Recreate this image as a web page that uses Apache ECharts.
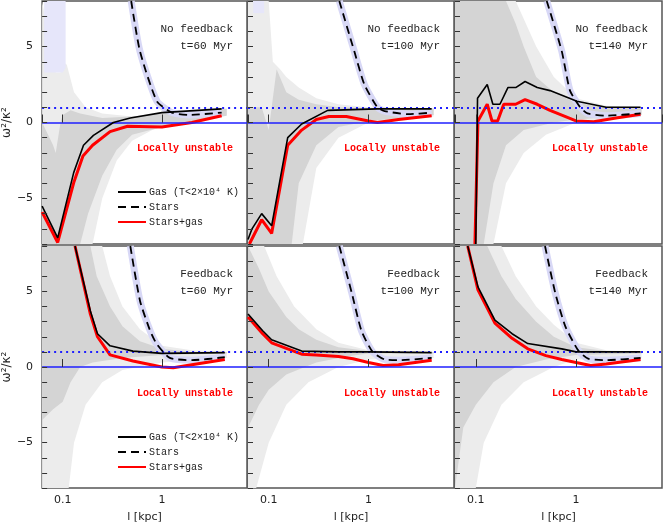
<!DOCTYPE html>
<html><head><meta charset="utf-8">
<script src="https://cdn.jsdelivr.net/npm/echarts@6/dist/echarts.min.js"></script>
<style>html,body{margin:0;padding:0;background:#fff}#c{width:664px;height:524px}</style>
</head><body><div id="c"></div>
<script>
// ---------- data (x in kpc, y = omega^2/kappa^2) ----------
const panelTitles = ['No feedback\nt=60 Myr','No feedback\nt=100 Myr','No feedback\nt=140 Myr','Feedback\nt=60 Myr','Feedback\nt=100 Myr','Feedback\nt=140 Myr'];
const xTicks = [0.1, 1];
const yTickLabels = [-5, 0, 5];

const gas = [
 [[0.062,-5.5],[0.089,-7.6],[0.129,-3.3],[0.162,-1.5],[0.204,-0.85],[0.324,0],[0.479,0.3],[1,0.65],[4,0.9]],
 [[0.062,-7.7],[0.068,-7.0],[0.085,-6.0],[0.107,-6.8],[0.155,-1.0],[0.214,-0.1],[0.39,0.8],[1.23,0.9],[4.3,0.9]],
 [[0.1,-8],[0.104,1.6],[0.13,2.5],[0.148,1.2],[0.174,1.2],[0.209,2.3],[0.25,2.3],[0.31,2.7],[0.41,2.3],[0.55,2.1],[1.02,1.4],[2,1.0],[4.4,1.0]],
 [[0.133,8],[0.19,3.7],[0.224,2.2],[0.3,1.4],[0.51,1.05],[1,0.9],[4.3,0.95]],
 [[0.062,3.5],[0.087,2.4],[0.107,1.8],[0.214,1.05],[0.5,1.0],[1,1.0],[4.3,0.95]],
 [[0.083,8],[0.105,5.3],[0.155,3.1],[0.23,2.2],[0.33,1.55],[0.72,1.2],[1,1.0],[4.4,1.0]]
];
const starsGas = [
 [[0.062,-5.9],[0.089,-7.9],[0.13,-3.9],[0.16,-2.2],[0.2,-1.5],[0.3,-0.6],[0.45,-0.25],[1,-0.3],[2,0],[4,0.45]],
 [[0.064,-8],[0.085,-6.4],[0.107,-7.3],[0.155,-1.5],[0.214,-0.5],[0.3,0.2],[0.4,0.4],[0.6,0.4],[1.0,0.1],[1.23,0],[2,0.2],[4.3,0.45]],
 [[0.098,-8],[0.105,0.1],[0.13,1.2],[0.145,0.1],[0.165,0.1],[0.19,1.2],[0.25,1.2],[0.31,1.5],[0.41,1.2],[0.55,0.8],[1.0,0.1],[1.5,0.05],[2.5,0.3],[4.4,0.55]],
 [[0.133,8],[0.19,3.5],[0.224,2.0],[0.3,0.8],[0.51,0.4],[1,0],[1.3,-0.05],[2,0.15],[4.3,0.5]],
 [[0.062,3.3],[0.087,2.2],[0.107,1.6],[0.214,0.85],[0.3,0.8],[0.5,0.7],[0.7,0.55],[1.0,0.3],[1.4,0.1],[2,0.15],[4.3,0.45]],
 [[0.083,8],[0.105,5.1],[0.155,2.9],[0.23,1.9],[0.33,1.2],[0.5,0.75],[0.72,0.5],[1.0,0.3],[1.4,0.1],[2,0.2],[4.4,0.5]]
];
const stars = [
 [[0.49,8],[0.6,4.7],[0.89,1.4],[1.26,0.65],[1.9,0.5],[4,0.65]],
 [[0.51,8],[0.72,4.7],[0.91,2.5],[1.23,1.0],[1.45,0.75],[2.5,0.55],[4.3,0.65]],
 [[0.51,8],[0.72,4.7],[0.87,2.1],[1.1,1.0],[1.3,0.6],[2,0.45],[4.4,0.6]],
 [[0.48,8],[0.6,4.4],[0.76,2.4],[0.89,1.5],[1.2,0.6],[2,0.45],[4.3,0.65]],
 [[0.51,8],[0.68,4.9],[0.85,2.4],[1.1,1.0],[1.45,0.5],[2,0.45],[4.3,0.6]],
 [[0.49,8],[0.62,4.9],[0.78,2.7],[1.05,1.1],[1.32,0.55],[2,0.45],[4.4,0.6]]
];
// scatter bands: [upper edge, lower edge]
const lightBand = [
 [[[0.062,8],[0.08,4],[0.085,3.3],[0.095,3.3],[0.1,4],[0.11,3.8],[0.13,2],[0.17,1],[0.25,0.6],[0.5,0.4],[1,0.5],[2,0.7],[4.5,0.9]],
  [[0.062,-8],[0.2,-8],[0.25,-5],[0.35,-2.5],[0.5,-1.2],[0.8,-0.5],[1,-0.3],[2,0],[4.5,0.5]]],
 [[[0.062,8],[0.1,8],[0.11,4],[0.13,3.5],[0.15,3],[0.2,2.3],[0.3,1.6],[0.5,1.2],[1,1],[4.5,0.95]],
  [[0.062,-8],[0.22,-8],[0.3,-3],[0.5,-1],[1,0],[4.5,0.4]]],
 [[[0.062,8],[0.25,8],[0.4,5],[0.6,3],[1,1.6],[2,1.1],[4.5,1]],
  [[0.062,-8],[0.15,-8],[0.2,-4],[0.3,-2],[0.5,-0.8],[1,0],[4.5,0.5]]],
 [[[0.062,8],[0.25,8],[0.3,6],[0.4,4],[0.6,2.5],[1,1.4],[2,1.1],[4.5,1]],
  [[0.062,-8],[0.115,-8],[0.13,-5],[0.17,-2.5],[0.25,-1],[0.4,-0.2],[1,0.3],[4.5,0.6]]],
 [[[0.062,8],[0.09,8],[0.12,6],[0.18,4],[0.3,2.5],[0.5,1.6],[1,1.1],[4.5,1]],
  [[0.062,-8],[0.075,-8],[0.1,-5],[0.15,-2.5],[0.25,-1],[0.5,0],[1,0.5],[4.5,0.6]]],
 [[[0.062,8],[0.18,8],[0.25,6],[0.4,4],[0.6,2.8],[1,1.6],[2,1.1],[4.5,1]],
  [[0.062,-8],[0.1,-8],[0.12,-5],[0.18,-2.5],[0.3,-1],[0.6,0],[1,0.5],[4.5,0.6]]]
];
const darkBand = [
 [[[0.062,0],[0.08,-1.5],[0.085,-2],[0.095,0],[0.1,0.5],[0.12,0.8],[0.15,0.6],[0.25,0.3],[0.5,0.4],[1,0.6],[4.5,0.9]],
  [[0.062,-8],[0.15,-8],[0.18,-6],[0.25,-3.5],[0.35,-1.8],[0.5,-0.8],[1,-0.3],[4.5,0.45]]],
 [[[0.062,1],[0.085,1],[0.1,-0.5],[0.12,3.5],[0.15,2],[0.2,1.5],[0.3,1.2],[0.5,1.0],[1,0.95],[4.5,0.9]],
  [[0.062,-8],[0.17,-8],[0.2,-4],[0.3,-1.5],[0.5,-0.3],[1,0.1],[4.5,0.5]]],
 [[[0.062,8],[0.2,8],[0.25,6.5],[0.3,5],[0.4,3],[0.6,2],[1,1.3],[2,1],[4.5,1]],
  [[0.062,-8],[0.12,-8],[0.15,-4],[0.2,-1.5],[0.3,-0.5],[0.6,0],[1,0.2],[4.5,0.5]]],
 [[[0.062,8],[0.19,8],[0.22,6],[0.3,4],[0.4,2.7],[0.6,1.7],[1,1.2],[2,1],[4.5,1]],
  [[0.062,-3.5],[0.08,-2.8],[0.1,-2.3],[0.12,-1],[0.15,0],[0.2,0.3],[0.4,0.6],[1,0.8],[4.5,0.9]]],
 [[[0.062,8],[0.08,6.5],[0.1,5],[0.15,3.3],[0.2,2.5],[0.3,1.8],[0.5,1.3],[1,1.05],[4.5,1]],
  [[0.062,-4],[0.08,-2.5],[0.1,-1.5],[0.15,-0.5],[0.3,0.3],[0.6,0.7],[1,0.9],[4.5,0.9]]],
 [[[0.062,8],[0.13,8],[0.18,6],[0.25,4.5],[0.4,3],[0.6,2],[1,1.3],[2,1.05],[4.5,1]],
  [[0.062,-8],[0.075,-4],[0.1,-2.5],[0.15,-1],[0.25,0],[0.5,0.5],[1,0.8],[4.5,0.9]]]
];
const bluePatch = [
 [[[0.065,8],[0.107,8]],[[0.065,3.3],[0.08,3.3],[0.1,3.3],[0.107,3.6]]],
 [[[0.07,8],[0.09,8]],[[0.07,7.2],[0.09,7.2]]],
 null,null,null,null
];

// ---------- layout ----------
const grids = [
 {left:41,top:1,width:206,height:243},{left:248,top:1,width:206,height:243},{left:455,top:1,width:207,height:243},
 {left:41,top:246,width:206,height:244},{left:248,top:246,width:206,height:244},{left:455,top:246,width:207,height:244}
];
const font = 'DejaVu Sans';
const xAxes=[], yAxes=[], series=[], graphics=[];

function bandSeries(i, band, color, z){
  if(!band) return;
  const pts = band[0].concat(band[1].slice().reverse());
  series.push({type:'custom', xAxisIndex:i, yAxisIndex:i, silent:true, z:z, data:[[1,0]],
    renderItem:(params, api)=>{
      const cs = params.coordSys;
      return {type:'polygon', shape:{points:pts.map(p=>api.coord(p))},
        style:{fill:color}, clipPath:{type:'rect', shape:{x:cs.x,y:cs.y,width:cs.width,height:cs.height}}};
    }});
}

for(let i=0;i<6;i++){
  const bottom = i>=3;
  const g = grids[i];
  xAxes.push({type:'log', logBase:10, gridIndex:i, min:0.062, max:7.2, z:20,
    axisLine:{show:false}, splitLine:{show:false},
    axisTick:{show:true, inside:true, length:8, lineStyle:{color:'#333'}},
    axisLabel:{show:bottom, showMinLabel:false, showMaxLabel:false, color:'#222', fontFamily:font, fontSize:11, margin:7,
      formatter:v=> xTicks.some(t=>Math.abs(t-v)<1e-9) ? String(v) : ''},
    name: bottom ? 'l [kpc]' : '', nameLocation:'middle', nameGap:24,
    nameTextStyle:{color:'#222', fontFamily:font, fontSize:11}});
  yAxes.push({type:'value', gridIndex:i, min:-8, max:8, interval:1, z:20,
    axisLine:{show:false}, splitLine:{show:false},
    axisTick:{show:true, inside:true, length:5, lineStyle:{color:'#333'}},
    axisLabel:{show:i%3===0, color:'#222', fontFamily:font, fontSize:11, margin:9,
      formatter:v=> yTickLabels.includes(v) ? (v<0?'\u2212'+(-v):String(v)) : ''},
    name: i%3===0 ? 'ω²/κ²' : '', nameLocation:'middle', nameGap:24, nameRotate:90,
    nameTextStyle:{color:'#222', fontFamily:font, fontSize:12}});

  bandSeries(i, lightBand[i], '#ececec', 1);
  bandSeries(i, darkBand[i], '#d4d4d4', 2);
  bandSeries(i, bluePatch[i], '#e6e6fa', 2);

  series.push({type:'line', xAxisIndex:i, yAxisIndex:i, data:stars[i], symbol:'none', silent:true, z:3, smooth:0.2,
    lineStyle:{color:'#d8d8f6', width:7}, markLine:{silent:true, symbol:'none', label:{show:false},
      data:[{yAxis:0, lineStyle:{color:'#1f1fff', type:'solid', width:1.5}},
            {yAxis:1, lineStyle:{color:'#1f1fff', type:[2,4], width:1.8}}]}});
  series.push({name:'Stars', type:'line', xAxisIndex:i, yAxisIndex:i, data:stars[i], symbol:'none', z:5, smooth:0.2,
    lineStyle:{color:'#000', width:1.8, type:[8,5]}});
  series.push({name:'Gas (T<2×10⁴ K)', type:'line', xAxisIndex:i, yAxisIndex:i, data:gas[i], symbol:'none', z:5,
    lineStyle:{color:'#000', width:1.6}});
  series.push({name:'Stars+gas', type:'line', xAxisIndex:i, yAxisIndex:i, data:starsGas[i], symbol:'none', z:4,
    lineStyle:{color:'#ff0000', width:3}});

  graphics.push({type:'text', right:664-(g.left+g.width)+14, top:g.top+20, z:30,
    style:{text:panelTitles[i], font:'11px "Liberation Mono"', fill:'#222', textAlign:'right', lineHeight:17}});
  graphics.push({type:'text', right:664-(g.left+g.width)+14, top:g.top+142, z:30,
    style:{text:'Locally unstable', font:'bold 10px "Liberation Mono"', fill:'#ff0000'}});
  grids[i] = Object.assign({show:true, borderColor:'#555', borderWidth:1.5, backgroundColor:'transparent'}, g);
}

const legendNames = ['Gas (T<2×10⁴ K)','Stars','Stars+gas'];
const legends = [0,3].map(i=>({data:legendNames, orient:'vertical', left:grids[i].left+71, top:grids[i].top+181,
  itemWidth:28, itemHeight:10, itemGap:5, selectedMode:false, itemStyle:{opacity:0},
  textStyle:{fontFamily:'Liberation Mono', fontSize:10, color:'#222', padding:[0,0,0,-2]}}));

const chart = echarts.init(document.getElementById('c'), null, {renderer:'canvas'});
chart.setOption({animation:false, backgroundColor:'#fff', grid:grids, xAxis:xAxes, yAxis:yAxes,
  series:series, legend:legends, graphic:graphics});
</script></body></html>
